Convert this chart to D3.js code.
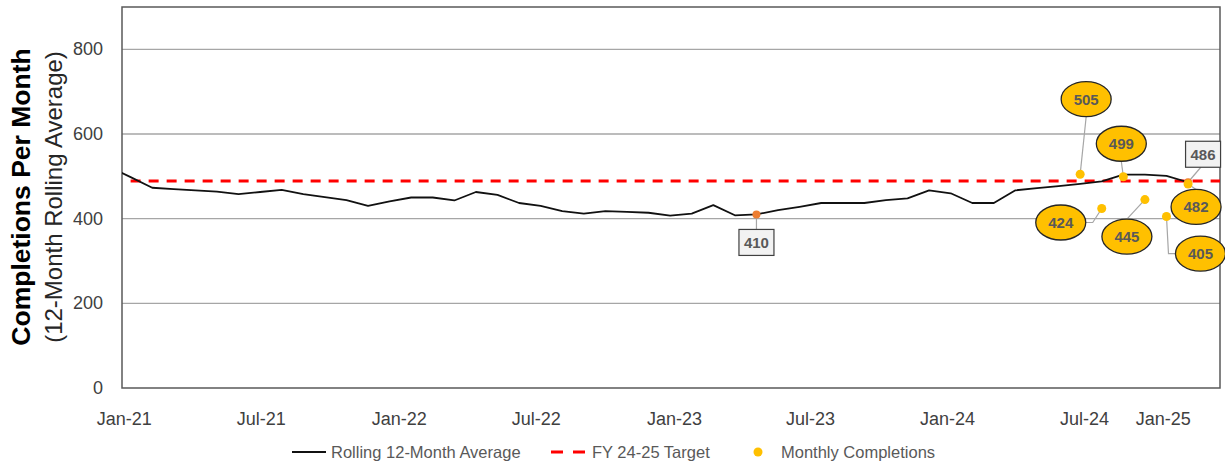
<!DOCTYPE html>
<html>
<head>
<meta charset="utf-8">
<title>Completions Per Month</title>
<script src="https://d3js.org/d3.v7.min.js"></script>
<style>
  html, body { margin: 0; padding: 0; background: #fff; overflow: hidden; }
  svg { display: block; font-family: "Liberation Sans", Arial, sans-serif; }
  .narrow { font-family: "Liberation Sans Narrow", "Arial Narrow", "Liberation Sans", sans-serif; }
</style>
</head>
<body>
<svg id="chart" width="1225" height="463"></svg>
<script>
// rolling 12-month average (index 0 = Jan-21, first value sits just before the axis start)
const avgStart = -1;
const avgValues = [523, 498, 473, 470, 467, 464, 458, 463, 468, 458, 451, 444, 430, 441, 450, 450,
  443, 463, 456, 437, 430, 418, 412, 418, 416, 414, 407, 412, 432, 408, 410, 420, 428, 437, 437,
  437, 444, 448, 467, 460, 437, 437, 467, 472, 477, 482, 488, 504, 504, 501, 486];

// monthly completions for FY 24-25
const monthlyIdx = [44, 45, 46, 47, 48, 49];
const monthlyValues = [505, 424, 499, 445, 405, 482];

const target = 489;

// labelled points on the rolling line
const lineLabelIdx = [29, 49];

// x axis labels and where they sit (in point index units)
const tickLabels = ["Jan-21", "Jul-21", "Jan-22", "Jul-22", "Jan-23", "Jul-23", "Jan-24", "Jul-24", "Jan-25"];
const tickPos = [-0.3, 6.05, 12.45, 18.8, 25.2, 31.5, 37.85, 44.2, 47.85];
const yTicks = [0, 200, 400, 600, 800];

// callout layout (offset of label from its point), kept apart from the data
const monthlyCallouts = [
  { dx: 6, dy: -75, leader: "v" },
  { dx: -41, dy: 14, leader: "h" },
  { dx: -2, dy: -33, leader: "v" },
  { dx: -18, dy: 37, leader: "v" },
  { dx: 34, dy: 37, leader: "h" },
  { dx: 8, dy: 23, leader: "v" }
];
const lineCallouts = [
  { dx: 0, dy: 28 },
  { dx: 15, dy: -28 }
];

const svg = d3.select("#chart");
const plot = { left: 122, right: 1220, top: 7, bottom: 388 };

const x = d3.scaleLinear().domain([-0.4, 50.48]).range([plot.left, plot.right]);
const y = d3.scaleLinear().domain([0, 900]).range([plot.bottom, plot.top]);

svg.append("defs").append("clipPath").attr("id", "clip")
  .append("rect")
  .attr("x", plot.left).attr("y", plot.top)
  .attr("width", plot.right - plot.left).attr("height", plot.bottom - plot.top);

// gridlines
svg.append("g")
  .selectAll("line")
  .data(yTicks.filter(d => d > 0))
  .join("line")
  .attr("x1", plot.left).attr("x2", plot.right)
  .attr("y1", d => y(d)).attr("y2", d => y(d))
  .attr("stroke", "#a6a6a6").attr("stroke-width", 1.3);

// plot frame
svg.append("rect")
  .attr("x", plot.left).attr("y", plot.top)
  .attr("width", plot.right - plot.left).attr("height", plot.bottom - plot.top)
  .attr("fill", "none").attr("stroke", "#595959").attr("stroke-width", 1.5);

// y axis labels
svg.append("g")
  .selectAll("text")
  .data(yTicks)
  .join("text")
  .attr("x", 103).attr("y", d => y(d))
  .attr("text-anchor", "end").attr("dominant-baseline", "central")
  .attr("font-size", 18).attr("fill", "#404040")
  .text(d => d);

// x axis labels
svg.append("g")
  .selectAll("text")
  .data(tickLabels)
  .join("text")
  .attr("class", "narrow")
  .attr("x", (d, i) => x(tickPos[i])).attr("y", 419)
  .attr("text-anchor", "middle").attr("dominant-baseline", "central")
  .attr("font-size", 18).attr("fill", "#404040")
  .text(d => d);

// axis titles
svg.append("text")
  .attr("transform", "translate(21,197) rotate(-90)")
  .attr("text-anchor", "middle").attr("dominant-baseline", "central")
  .attr("font-size", 26.5).attr("font-weight", "bold").attr("fill", "#000")
  .text("Completions Per Month");
svg.append("text")
  .attr("transform", "translate(53,197) rotate(-90)")
  .attr("text-anchor", "middle").attr("dominant-baseline", "central")
  .attr("font-size", 24).attr("fill", "#262626")
  .text("(12-Month Rolling Average)");

// target line
svg.append("line")
  .attr("x1", x(0)).attr("x2", plot.right)
  .attr("y1", y(target)).attr("y2", y(target))
  .attr("stroke", "#ff0000").attr("stroke-width", 3)
  .attr("stroke-dasharray", "10,8");

// rolling average line
const avgData = avgValues.map((v, i) => ({ i: i + avgStart, v }));
const line = d3.line().x(d => x(d.i)).y(d => y(d.v));
svg.append("path")
  .datum(avgData)
  .attr("clip-path", "url(#clip)")
  .attr("fill", "none").attr("stroke", "#111").attr("stroke-width", 1.8)
  .attr("stroke-linejoin", "round")
  .attr("d", line);

// labels on the rolling line
const lineLabels = lineLabelIdx.map((idx, k) => {
  const v = avgValues[idx - avgStart];
  return { px: x(idx), py: y(v), v, cx: x(idx) + lineCallouts[k].dx, cy: y(v) + lineCallouts[k].dy };
});
const boxW = 35, boxH = 26;
svg.append("g")
  .selectAll("line")
  .data(lineLabels)
  .join("line")
  .attr("x1", d => d.px).attr("y1", d => d.py)
  .attr("x2", d => d.cx - (d.cx - d.px) * 0.15)
  .attr("y2", d => d.cy + (d.cy > d.py ? -boxH / 2 : boxH / 2))
  .attr("stroke", "#a6a6a6").attr("stroke-width", 1.2);
svg.append("g")
  .selectAll("circle")
  .data(lineLabels)
  .join("circle")
  .attr("cx", d => d.px).attr("cy", d => d.py).attr("r", 4)
  .attr("fill", "#ed7d31");
const boxes = svg.append("g").selectAll("g").data(lineLabels).join("g");
boxes.append("rect")
  .attr("x", d => d.cx - boxW / 2).attr("y", d => d.cy - boxH / 2)
  .attr("width", boxW).attr("height", boxH)
  .attr("fill", "#f2f2f2").attr("stroke", "#404040").attr("stroke-width", 1.2);
boxes.append("text")
  .attr("x", d => d.cx).attr("y", d => d.cy)
  .attr("text-anchor", "middle").attr("dominant-baseline", "central")
  .attr("font-size", 15).attr("font-weight", "bold").attr("fill", "#595959")
  .text(d => d.v);

// monthly completions with ellipse callouts
const rx = 25, ry = 17.5;
const monthly = monthlyValues.map((v, k) => {
  const px = x(monthlyIdx[k]), py = y(v);
  const c = monthlyCallouts[k];
  return { v, px, py, cx: px + c.dx, cy: py + c.dy, leader: c.leader };
});
svg.append("g")
  .selectAll("path")
  .data(monthly)
  .join("path")
  .attr("fill", "none").attr("stroke", "#a6a6a6").attr("stroke-width", 1.2)
  .attr("d", d => {
    if (d.leader === "h") {
      const s = d.px > d.cx ? 1 : -1;
      const ex = d.cx + s * rx;
      return `M${ex},${d.cy}L${ex + s * 7},${d.cy}L${d.px},${d.py}`;
    }
    const ey = d.cy + (d.py > d.cy ? ry : -ry);
    return `M${d.cx},${ey}L${d.px},${d.py}`;
  });
svg.append("g")
  .selectAll("circle")
  .data(monthly)
  .join("circle")
  .attr("cx", d => d.px).attr("cy", d => d.py).attr("r", 4.5)
  .attr("fill", "#ffc000");
const ell = svg.append("g").selectAll("g").data(monthly).join("g");
ell.append("ellipse")
  .attr("cx", d => d.cx).attr("cy", d => d.cy).attr("rx", rx).attr("ry", ry)
  .attr("fill", "#ffc000").attr("stroke", "#262626").attr("stroke-width", 1.3);
ell.append("text")
  .attr("x", d => d.cx).attr("y", d => d.cy)
  .attr("text-anchor", "middle").attr("dominant-baseline", "central")
  .attr("font-size", 15).attr("font-weight", "bold").attr("fill", "#595959")
  .text(d => d.v);

// legend
const legend = svg.append("g").attr("class", "narrow").attr("font-size", 16.5).attr("fill", "#595959");
legend.append("line").attr("x1", 292).attr("x2", 326).attr("y1", 452).attr("y2", 452)
  .attr("stroke", "#111").attr("stroke-width", 2);
legend.append("text").attr("x", 331).attr("y", 452).attr("dominant-baseline", "central")
  .text("Rolling 12-Month Average");
legend.append("line").attr("x1", 551).attr("x2", 585).attr("y1", 452).attr("y2", 452)
  .attr("stroke", "#ff0000").attr("stroke-width", 3).attr("stroke-dasharray", "12,10");
legend.append("text").attr("x", 592).attr("y", 452).attr("dominant-baseline", "central")
  .text("FY 24-25 Target");
legend.append("circle").attr("cx", 758).attr("cy", 452).attr("r", 4.5).attr("fill", "#ffc000");
legend.append("text").attr("x", 781).attr("y", 452).attr("dominant-baseline", "central")
  .text("Monthly Completions");
</script>
</body>
</html>
